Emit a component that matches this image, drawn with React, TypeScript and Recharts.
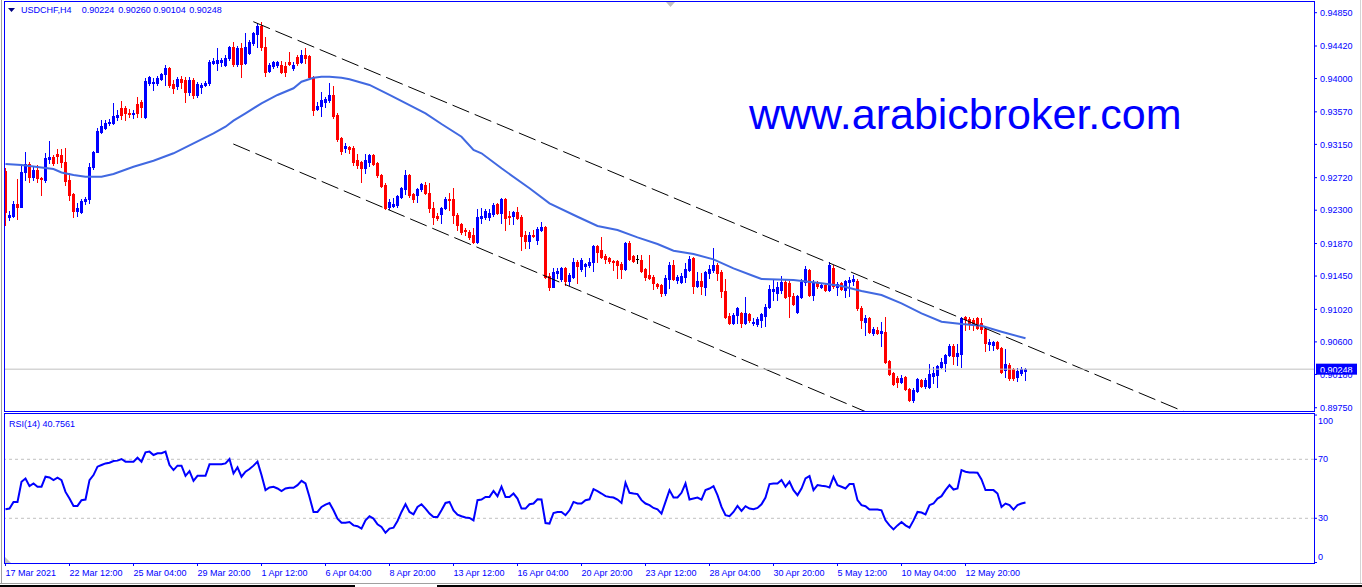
import React from 'react';
import { ComposedChart, Bar, Line, XAxis, YAxis, ReferenceLine } from 'recharts';

const FONT = "'Liberation Sans', Arial, sans-serif";
const BLUE = '#0000ff';

// USDCHF H4 candles, prices in units of 0.0001
const opens = [
  9281, 9221, 9223, 9238, 9234, 9279, 9290, 9273, 9282, 9272,
  9269, 9296, 9299, 9303, 9301, 9292, 9269, 9251, 9229, 9228,
  9242, 9244, 9286, 9305, 9331, 9336, 9343, 9343, 9350, 9362,
  9362, 9356, 9354, 9367, 9370, 9350, 9394, 9394, 9394, 9399,
  9406, 9414, 9393, 9390, 9399, 9398, 9383, 9398, 9379, 9389,
  9392, 9394, 9420, 9420, 9421, 9417, 9427, 9441, 9419, 9439,
  9420, 9433, 9446, 9458, 9468, 9441, 9410, 9416, 9417, 9417,
  9416, 9421, 9414, 9428, 9421, 9430, 9429, 9402, 9361, 9365,
  9370, 9372, 9379, 9353, 9323, 9310, 9312, 9310, 9295, 9292,
  9285, 9292, 9301, 9291, 9276, 9263, 9234, 9235, 9237, 9247,
  9257, 9276, 9251, 9250, 9257, 9263, 9252, 9233, 9223, 9225,
  9233, 9244, 9244, 9224, 9212, 9204, 9202, 9198, 9189, 9220,
  9221, 9221, 9225, 9238, 9226, 9244, 9223, 9223, 9228, 9221,
  9198, 9190, 9198, 9192, 9204, 9208, 9145, 9131, 9149, 9141,
  9155, 9139, 9144, 9163, 9154, 9158, 9159, 9163, 9184, 9179,
  9171, 9168, 9164, 9164, 9161, 9154, 9188, 9171, 9167, 9166,
  9154, 9146, 9144, 9135, 9133, 9123, 9141, 9159, 9140, 9137,
  9144, 9153, 9168, 9132, 9139, 9131, 9149, 9153, 9159, 9150,
  9126, 9093, 9084, 9095, 9097, 9084, 9096, 9084, 9083, 9088,
  9093, 9105, 9126, 9123, 9127, 9137, 9136, 9119, 9099, 9118,
  9137, 9153, 9121, 9136, 9131, 9133, 9127, 9155, 9131, 9136,
  9127, 9137, 9139, 9139, 9104, 9086, 9091, 9072, 9075, 9072,
  9073, 9035, 9020, 9013, 9008, 9015, 8999, 8985, 8997, 9011,
  9003, 9002, 9016, 9017, 9028, 9033, 9043, 9055, 9042, 9044,
  9092, 9090, 9088, 9091, 9084, 9077, 9057, 9056, 9060, 9052,
  9024, 9030, 9025, 9015, 9020, 9022.4,
];
const highs = [
  9285, 9229, 9242, 9270, 9288, 9305, 9292, 9286, 9288, 9273,
  9304, 9319, 9301, 9309, 9309, 9310, 9278, 9252, 9239, 9244,
  9247, 9291, 9306, 9336, 9346, 9346, 9348, 9368, 9359, 9371,
  9365, 9361, 9360, 9376, 9372, 9401, 9403, 9401, 9403, 9407,
  9417, 9415, 9398, 9402, 9403, 9402, 9402, 9401, 9396, 9394,
  9397, 9424, 9427, 9439, 9427, 9430, 9442, 9447, 9442, 9446,
  9459, 9450, 9460, 9472, 9473, 9454, 9420, 9423, 9423, 9423,
  9421, 9434, 9421, 9430, 9437, 9439, 9430, 9403, 9370, 9383,
  9376, 9394, 9390, 9356, 9324, 9317, 9313, 9313, 9303, 9294,
  9303, 9303, 9303, 9292, 9277, 9265, 9244, 9246, 9250, 9260,
  9282, 9277, 9252, 9259, 9265, 9266, 9265, 9241, 9226, 9234,
  9247, 9252, 9259, 9226, 9214, 9207, 9204, 9207, 9232, 9233,
  9232, 9232, 9239, 9239, 9246, 9246, 9229, 9229, 9234, 9224,
  9203, 9202, 9204, 9208, 9215, 9210, 9149, 9155, 9155, 9157,
  9157, 9149, 9168, 9166, 9168, 9162, 9168, 9185, 9185, 9195,
  9174, 9170, 9166, 9166, 9163, 9189, 9190, 9172, 9172, 9172,
  9155, 9172, 9146, 9136, 9135, 9146, 9163, 9166, 9146, 9149,
  9162, 9171, 9169, 9150, 9149, 9152, 9159, 9181, 9162, 9153,
  9141, 9097, 9097, 9105, 9099, 9118, 9097, 9091, 9092, 9097,
  9109, 9133, 9140, 9137, 9145, 9140, 9139, 9123, 9121, 9141,
  9158, 9154, 9140, 9139, 9136, 9135, 9163, 9159, 9137, 9137,
  9140, 9144, 9146, 9141, 9106, 9095, 9092, 9079, 9079, 9086,
  9092, 9037, 9021, 9016, 9017, 9016, 9001, 9001, 9013, 9012,
  9013, 9031, 9028, 9030, 9039, 9044, 9057, 9057, 9057, 9092,
  9094, 9092, 9091, 9092, 9091, 9078, 9064, 9061, 9061, 9053,
  9051, 9033, 9026, 9026, 9028, 9026,
];
const lows = [
  9211, 9217, 9221, 9219, 9234, 9269, 9266, 9269, 9266, 9250,
  9266, 9291, 9288, 9291, 9286, 9263, 9243, 9221, 9223, 9226,
  9238, 9239, 9283, 9305, 9330, 9335, 9340, 9341, 9346, 9348,
  9346, 9350, 9349, 9350, 9350, 9349, 9392, 9385, 9392, 9398,
  9392, 9389, 9381, 9387, 9388, 9370, 9379, 9375, 9376, 9381,
  9390, 9392, 9419, 9411, 9416, 9416, 9424, 9416, 9416, 9402,
  9419, 9432, 9443, 9441, 9437, 9403, 9408, 9414, 9415, 9407,
  9403, 9417, 9411, 9417, 9420, 9420, 9401, 9353, 9359, 9352,
  9363, 9370, 9349, 9319, 9303, 9305, 9304, 9288, 9285, 9266,
  9278, 9287, 9288, 9273, 9260, 9232, 9232, 9234, 9234, 9246,
  9251, 9247, 9241, 9241, 9255, 9251, 9228, 9212, 9217, 9214,
  9232, 9230, 9214, 9204, 9199, 9198, 9193, 9188, 9188, 9214,
  9219, 9217, 9223, 9225, 9214, 9204, 9212, 9212, 9219, 9179,
  9181, 9181, 9195, 9186, 9203, 9143, 9127, 9131, 9143, 9139,
  9133, 9133, 9143, 9136, 9152, 9145, 9157, 9152, 9163, 9168,
  9162, 9162, 9153, 9143, 9143, 9153, 9166, 9163, 9162, 9150,
  9140, 9141, 9128, 9130, 9119, 9121, 9130, 9140, 9136, 9136,
  9137, 9152, 9123, 9131, 9122, 9121, 9143, 9150, 9140, 9118,
  9091, 9083, 9083, 9084, 9079, 9083, 9086, 9082, 9081, 9079,
  9081, 9104, 9114, 9114, 9123, 9117, 9092, 9108, 9097, 9117,
  9133, 9119, 9114, 9130, 9130, 9126, 9126, 9130, 9121, 9127,
  9118, 9119, 9134, 9101, 9078, 9069, 9072, 9069, 9070, 9055,
  9033, 9017, 9004, 9002, 9007, 8998, 8984, 8982, 8995, 9002,
  9001, 9001, 9007, 9002, 9026, 9022, 9042, 9031, 9030, 9028,
  9075, 9077, 9075, 9077, 9072, 9048, 9050, 9050, 9051, 9020,
  9015, 9011, 9011, 9010, 9017, 9010.4,
];
const closes = [
  9228, 9224, 9238, 9234, 9279, 9290, 9273, 9282, 9272, 9270,
  9297, 9299, 9291, 9300, 9292, 9268, 9250, 9229, 9233, 9242,
  9244, 9286, 9305, 9332, 9339, 9343, 9344, 9352, 9353, 9353,
  9356, 9354, 9355, 9356, 9363, 9397, 9402, 9396, 9401, 9406,
  9414, 9392, 9388, 9399, 9396, 9383, 9398, 9379, 9393, 9392,
  9394, 9421, 9423, 9424, 9424, 9427, 9441, 9419, 9439, 9419,
  9441, 9447, 9459, 9468, 9441, 9408, 9417, 9421, 9421, 9408,
  9408, 9419, 9417, 9420, 9430, 9427, 9402, 9359, 9365, 9372,
  9374, 9379, 9352, 9322, 9306, 9313, 9309, 9292, 9288, 9285,
  9295, 9301, 9290, 9276, 9261, 9233, 9241, 9238, 9248, 9259,
  9276, 9250, 9244, 9257, 9264, 9252, 9233, 9221, 9220, 9233,
  9244, 9243, 9224, 9211, 9202, 9203, 9195, 9189, 9221, 9223,
  9229, 9226, 9237, 9226, 9244, 9220, 9221, 9228, 9220, 9197,
  9190, 9198, 9197, 9206, 9208, 9144, 9131, 9150, 9152, 9155,
  9139, 9146, 9163, 9158, 9166, 9161, 9163, 9184, 9176, 9170,
  9167, 9164, 9163, 9159, 9154, 9188, 9167, 9164, 9167, 9152,
  9144, 9143, 9136, 9132, 9123, 9143, 9159, 9141, 9144, 9145,
  9154, 9167, 9132, 9139, 9132, 9150, 9154, 9159, 9149, 9126,
  9092, 9084, 9095, 9104, 9084, 9097, 9088, 9086, 9090, 9096,
  9105, 9128, 9128, 9131, 9137, 9118, 9119, 9109, 9119, 9137,
  9154, 9121, 9136, 9132, 9133, 9127, 9159, 9132, 9135, 9128,
  9139, 9140, 9141, 9104, 9088, 9091, 9073, 9077, 9072, 9074,
  9034, 9019, 9006, 9008, 9013, 8999, 8985, 8998, 9012, 9003,
  9011, 9019, 9020, 9029, 9034, 9043, 9055, 9042, 9046, 9091,
  9089, 9084, 9083, 9078, 9077, 9059, 9060, 9060, 9052, 9021,
  9031, 9013, 9013, 9022, 9025, 9024.8,
];

// RSI(14), one value per bar
const rsi = [
  36.1, 36.6, 41.1, 41.1, 54.8, 57.0, 51.8, 53.6, 51.4, 51.4,
  58.2, 57.7, 55.9, 57.5, 55.9, 47.9, 43.4, 38.4, 38.4, 42.3,
  42.7, 55.9, 59.3, 65.0, 66.1, 67.2, 67.7, 68.8, 69.1, 70.2,
  68.4, 68.4, 68.4, 71.1, 68.4, 74.7, 75.2, 72.9, 74.1, 74.1,
  75.2, 66.1, 62.7, 65.7, 65.7, 58.8, 62.0, 55.4, 58.8, 58.8,
  58.8, 66.6, 66.6, 66.6, 66.6, 67.2, 70.2, 60.4, 64.5, 58.2,
  61.6, 63.4, 65.7, 68.4, 59.3, 49.1, 50.9, 51.4, 50.2, 48.4,
  50.2, 50.7, 50.7, 52.5, 55.4, 53.6, 44.5, 34.3, 34.3, 37.7,
  39.3, 40.4, 35.4, 29.8, 27.0, 27.0, 27.5, 25.2, 24.6, 23.0,
  28.6, 31.4, 29.8, 25.9, 24.1, 20.2, 23.0, 23.6, 28.2, 34.3,
  39.5, 34.3, 32.7, 37.7, 39.5, 36.6, 33.2, 30.9, 30.9, 35.4,
  40.4, 41.1, 35.4, 32.5, 31.4, 30.5, 30.2, 28.6, 42.3, 42.7,
  44.5, 44.5, 48.6, 45.0, 51.4, 44.5, 44.5, 46.8, 43.4, 36.6,
  36.6, 39.5, 40.0, 42.9, 42.7, 26.8, 26.4, 33.6, 34.3, 34.3,
  32.1, 35.4, 41.1, 40.0, 40.0, 42.3, 42.9, 49.8, 48.4, 46.8,
  45.0, 44.5, 44.1, 42.7, 40.4, 54.1, 47.3, 46.8, 46.4, 42.3,
  40.0, 38.9, 37.0, 36.1, 33.2, 41.1, 49.1, 44.1, 44.1, 47.3,
  53.6, 42.7, 43.4, 44.1, 42.7, 49.1, 50.2, 51.8, 45.7, 37.7,
  32.1, 31.4, 34.3, 38.4, 35.0, 38.2, 36.6, 36.1, 37.0, 39.5,
  44.1, 53.2, 53.6, 53.6, 55.9, 51.4, 54.8, 49.1, 45.7, 50.2,
  57.0, 58.6, 49.1, 52.5, 52.0, 51.8, 50.9, 58.2, 52.5, 51.4,
  50.2, 53.2, 53.2, 42.3, 38.9, 38.2, 35.9, 35.9, 35.9, 35.4,
  28.6, 25.2, 22.5, 25.2, 27.5, 25.2, 23.6, 28.6, 34.3, 33.9,
  32.7, 38.9, 40.0, 43.4, 45.0, 49.1, 52.5, 49.5, 50.2, 62.7,
  61.6, 61.1, 61.1, 60.9, 56.3, 49.1, 49.1, 49.1, 46.8, 37.7,
  40.0, 38.9, 35.9, 38.9, 40.0, 40.7561,
];

const maBars = [
  0, 4, 9, 12, 14, 17, 20, 24, 27, 32, 37, 42, 47, 52, 55, 57, 60, 64, 68, 72,
  74, 77, 79, 81, 84, 86, 91, 96, 101, 105, 109, 114, 117, 119, 124, 131, 136, 143, 148, 153,
  158, 163, 167, 172, 177, 182, 187, 189, 197, 204, 209, 214, 219, 224, 229, 234, 239, 244, 249, 255,
];
const maValues = [
  9289.7, 9288.4, 9285.2, 9283.2, 9278.7, 9275.5, 9273.3, 9273.3, 9276.8, 9286.2,
  9293.9, 9303.5, 9316.4, 9329.3, 9337.8, 9345.6, 9355.1, 9368.0, 9378.8, 9387.4,
  9395.9, 9401.1, 9402.4, 9402.4, 9401.1, 9399.0, 9391.7, 9378.8, 9365.8, 9355.1,
  9341.3, 9324.9, 9307.7, 9303.5, 9284.1, 9258.3, 9238.9, 9221.6, 9209.6, 9204.5,
  9195.0, 9186.4, 9177.7, 9173.5, 9166.6, 9155.0, 9145.1, 9141.2, 9139.9, 9135.7,
  9132.2, 9125.7, 9120.6, 9109.8, 9096.9, 9086.1, 9083.1, 9080.9, 9073.2, 9064.6,
];

// channel trendlines (bar, price)
const upperTrend = [{ x: 61.95, y: 0.94734 }, { x: 300, y: 0.89584 }];
const lowerTrend = [{ x: 56.95, y: 0.93155 }, { x: 223.6, y: 0.89512 }];

const priceTicks = [0.8975, 0.9018, 0.906, 0.9102, 0.9145, 0.9187, 0.923, 0.9272, 0.9315, 0.9357, 0.94, 0.9442, 0.9485];
const rsiTicks = [0, 30, 70, 100];
const timeTicks = [0, 16, 32, 48, 64, 80, 96, 112, 128, 144, 160, 176, 192, 208, 224, 240];
const timeLabels = [
  '17 Mar 2021', '22 Mar 12:00', '25 Mar 04:00', '29 Mar 20:00', '1 Apr 12:00', '6 Apr 04:00',
  '8 Apr 20:00', '13 Apr 12:00', '16 Apr 04:00', '20 Apr 20:00', '23 Apr 12:00', '28 Apr 04:00',
  '30 Apr 20:00', '5 May 12:00', '10 May 04:00', '12 May 20:00',
];
const titleValues = ['0.90224', '0.90260', '0.90104', '0.90248'];

const lastPrice = closes[closes.length - 1] / 10000;

const data = opens.map((o, i) => {
  const k = maBars.indexOf(i);
  return {
    i,
    o: o / 10000,
    h: highs[i] / 10000,
    l: lows[i] / 10000,
    c: closes[i] / 10000,
    range: [lows[i] / 10000, highs[i] / 10000],
    ma: k >= 0 ? maValues[k] / 10000 : null,
    rsi: rsi[i],
  };
});

const X_DOMAIN: [number, number] = [-0.125, 327.125];

const Candle = (props: any) => {
  const { x, y, width, height, payload } = props;
  if (x == null || y == null || !payload) return null;
  const { o, h, l, c } = payload;
  const top0 = Math.min(y, y + height);
  const hgt = Math.abs(height);
  const span = h - l || 1e-9;
  const py = (v: number) => top0 + ((h - v) / span) * hgt;
  const color = c > o ? '#0000ff' : c < o ? '#ff0000' : '#000000';
  const cx = Math.floor(x + width / 2);
  const hi = Math.round(py(h));
  const lo = Math.round(py(l));
  const bt = Math.round(py(Math.max(o, c)));
  const bb = Math.round(py(Math.min(o, c)));
  return (
    <g>
      <rect x={cx} y={hi} width={1} height={Math.max(1, lo - hi + 1)} fill={color} />
      <rect x={cx - 1} y={bt} width={3} height={Math.max(1, bb - bt + 1)} fill={color} />
    </g>
  );
};

const PriceTag = (props: any) => {
  const vb = props.viewBox || {};
  const x = vb.x + vb.width + 2;
  const y = vb.y;
  return (
    <g>
      <rect x={x} y={y - 5.5} width={41} height={11} fill={BLUE} />
      <text x={x + 4} y={y + 3.5} fill="#ffffff" fontSize={9} fontFamily={FONT}>
        {lastPrice.toFixed(5)}
      </text>
    </g>
  );
};

const RsiTick = (props: any) => {
  const { x, y, payload } = props;
  const v = payload.value;
  const shift = v === 100 ? 6 : v === 0 ? -6 : 0;
  return (
    <text x={x} y={y + shift} dy="0.35em" fill={BLUE} fontSize={9} fontFamily={FONT} textAnchor="start">
      {v}
    </text>
  );
};

const TimeTick = (props: any) => {
  const { x, y, payload } = props;
  const label = timeLabels[timeTicks.indexOf(payload.value)];
  return (
    <text x={x} y={y} dy={7} fill={BLUE} fontSize={9} fontFamily={FONT} textAnchor="start">
      {label}
    </text>
  );
};

export default function App() {
  return (
    <div style={{ position: 'absolute', left: 0, top: 0, width: 1362, height: 587, background: '#fff', overflow: 'hidden' }}>
      <div style={{ position: 'absolute', left: 0, top: 0 }}>
        <ComposedChart width={1362} height={413} data={data} margin={{ top: 2, right: 0, bottom: 2, left: 5 }}>
          <XAxis type="number" dataKey="i" domain={X_DOMAIN} allowDataOverflow hide />
          <YAxis
            orientation="right"
            width={48}
            domain={[0.897079, 0.949881]}
            allowDataOverflow
            ticks={priceTicks}
            interval={0}
            tickFormatter={(v: number) => v.toFixed(5)}
            tick={{ fill: BLUE, fontSize: 9, fontFamily: FONT }}
            tickSize={3}
            tickMargin={3}
            axisLine={false}
            tickLine={{ stroke: BLUE }}
          />
          <Bar dataKey="range" barSize={3} shape={<Candle />} isAnimationActive={false} />
          <Line dataKey="ma" type="linear" stroke="#4169e1" strokeWidth={2} dot={false} connectNulls isAnimationActive={false} />
          <ReferenceLine segment={upperTrend} stroke="#000" strokeDasharray="18 6" ifOverflow="hidden" />
          <ReferenceLine segment={lowerTrend} stroke="#000" strokeDasharray="18 6" ifOverflow="hidden" />
          <ReferenceLine y={lastPrice} stroke="#c0c0c0" label={<PriceTag />} />
        </ComposedChart>
      </div>
      <div style={{ position: 'absolute', left: 0, top: 413 }}>
        <ComposedChart width={1362} height={174} data={data} margin={{ top: 1, right: 0, bottom: 0, left: 5 }}>
          <XAxis
            type="number"
            dataKey="i"
            domain={X_DOMAIN}
            allowDataOverflow
            ticks={timeTicks}
            interval={0}
            height={24}
            tickSize={3}
            tickMargin={3}
            axisLine={false}
            tickLine={{ stroke: BLUE }}
            tick={<TimeTick />}
          />
          <YAxis
            orientation="right"
            width={48}
            domain={[-0.31, 100.71]}
            allowDataOverflow
            ticks={rsiTicks}
            interval={0}
            tickSize={3}
            tickMargin={1}
            axisLine={false}
            tickLine={{ stroke: BLUE }}
            tick={<RsiTick />}
          />
          <ReferenceLine y={70} stroke="#c0c0c0" strokeDasharray="3 3" />
          <ReferenceLine y={30} stroke="#c0c0c0" strokeDasharray="3 3" />
          <Line dataKey="rsi" type="linear" stroke={BLUE} strokeWidth={2} dot={false} isAnimationActive={false} />
        </ComposedChart>
      </div>
      <svg width={1362} height={587} style={{ position: 'absolute', left: 0, top: 0, pointerEvents: 'none' }}>
        <line x1={1.5} y1={0} x2={1.5} y2={584} stroke="#a0a0a0" />
        <line x1={1360.5} y1={0} x2={1360.5} y2={584} stroke="#d4d4d4" />
        <rect x={4.5} y={1.5} width={1310} height={410} fill="none" stroke={BLUE} />
        <rect x={4.5} y={413.5} width={1310} height={150} fill="none" stroke={BLUE} />
        <line x1={0} y1={583.5} x2={1362} y2={583.5} stroke="#a0a0a0" />
        <rect x={0} y={585} width={355} height={2} fill="#000" />
        <rect x={437} y={585} width={925} height={2} fill="#000" />
        <polygon points="666,2 675,2 670.5,7" fill="#c0c0c0" />
        <polygon points="5,557 5,563 11,563" fill="#c0c0c0" />
        <polygon points="8,8 15,8 11.5,12" fill="#000080" />
        <text x={21} y={13} fill={BLUE} fontSize={9} fontFamily={FONT}>USDCHF,H4</text>
        {titleValues.map((t, k) => (
          <text key={t} x={[81.7, 118.3, 153.3, 189.3][k]} y={13} fill={BLUE} fontSize={9} fontFamily={FONT}>{t}</text>
        ))}
        <text x={9} y={427} fill={BLUE} fontSize={9} fontFamily={FONT}>RSI(14) 40.7561</text>
        <text x={749} y={129} fill={BLUE} fontSize={43} fontFamily={FONT}>www.arabicbroker.com</text>
      </svg>
    </div>
  );
}
